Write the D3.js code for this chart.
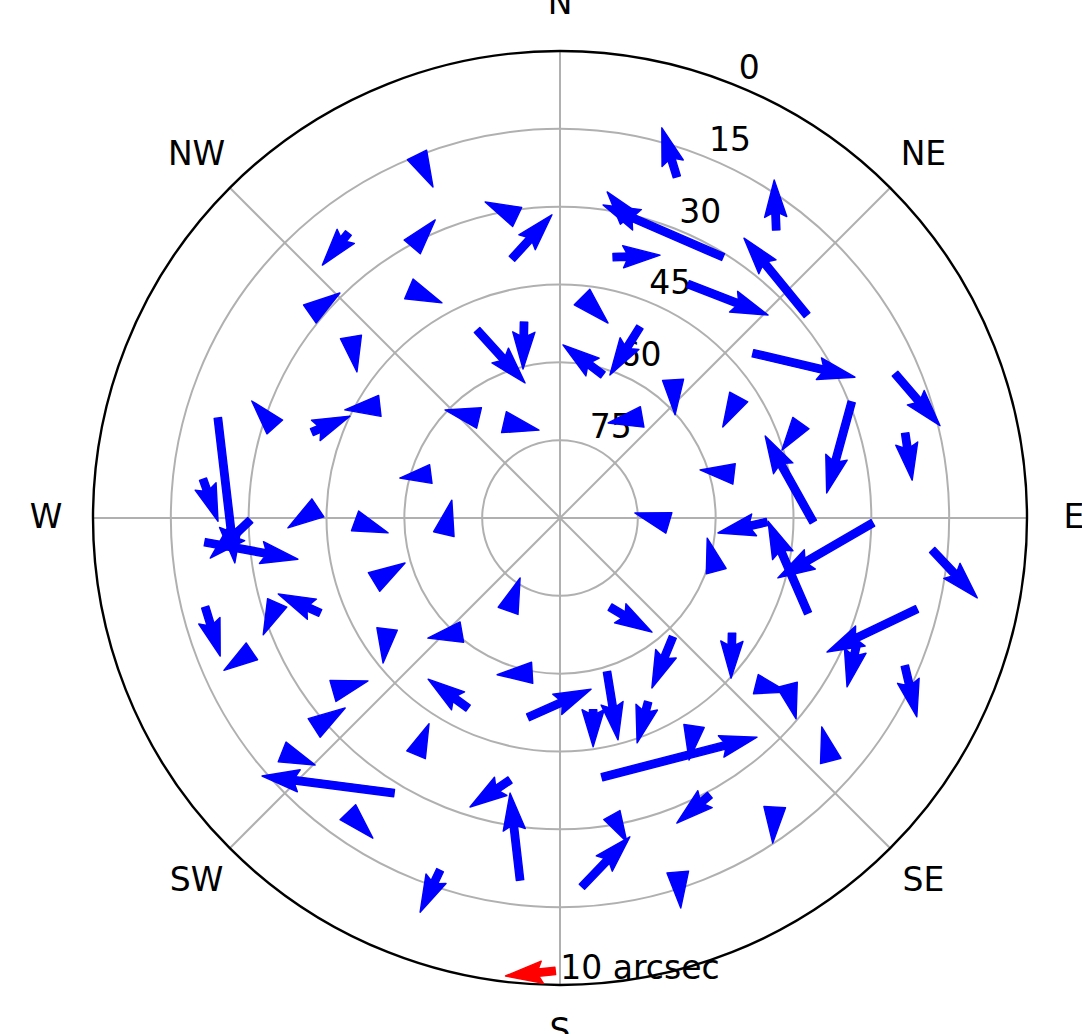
<!DOCTYPE html>
<html><head><meta charset="utf-8">
<script src="https://cdn.jsdelivr.net/npm/d3@7"></script>
<style>html,body{margin:0;padding:0;background:#fff}svg{display:block}</style>
</head><body><svg id="c" width="1082" height="1034"></svg>
<script>
// Tail positions (azimuth clockwise from N, elevation in degrees)
const azimuth = [323.4,309.2,310.9,338.5,351.9,349.5,331.4,326.6,18.9,32.0,12.8,11.5,5.7,336.2,349.6,16.7,22.7,36.9,50.6,28.7,
49.5,66.7,55.9,68.3,76.2,68.5,90.9,75.8,91.1,111.0,90.9,94.9,104.3,112.8,123.8,108.8,39.3,39.1,321.0,329.7,
288.8,262.1,92.6,209.2,150.7,220.7,136.5,190.2,287.7,289.1,301.9,286.3,276.2,269.6,266.1,272.4,269.2,251.0,248.4,253.3,
255.9,246.6,237.3,232.7,229.5,229.9,211.1,215.8,205.8,189.1,211.3,170.2,163.0,154.4,147.2,170.8,151.6,186.3,190.8,170.1,
176.6,198.8,161.6,126.3,130.3,131.9,113.2,143.4];
const elevation = [21.6,27.8,36.7,14.8,31.4,39.2,30.5,37.1,20.5,30.7,30.7,38.7,47.2,50.4,51.6,61.2,50.1,20.6,28.4,38.6,
41.1,19.7,48.4,29.5,21.5,40.1,41.2,55.4,50.1,38.8,29.7,18.0,19.0,27.9,50.1,58.2,55.6,64.9,65.2,68.6,
63.7,67.4,69.0,69.5,70.3,61.0,58.4,59.7,32.3,39.4,49.1,21.3,20.8,30.3,21.4,43.3,50.5,52.1,40.3,33.1,
19.5,25.3,50.4,35.0,27.7,20.0,28.1,20.1,49.3,51.1,36.6,52.5,59.0,50.7,42.3,39.4,29.3,19.8,38.6,31.9,
18.8,18.3,18.1,35.7,40.5,19.9,17.7,20.6];
// Offsets in arcsec (u: toward screen right, v: toward screen up)
const offU = [-5.2,6.0,1.2,3.2,-6.4,8.0,4.6,6.6,-3.0,-24.0,-4.2,9.4,5.2,9.6,-0.2,-8.0,-6.0,-0.4,-12.6,16.0,
20.4,9.0,-3.2,-5.0,1.4,-3.8,-9.6,-6.8,-9.8,-8.0,-19.0,9.0,-18.0,-2.0,-0.2,-1.8,0.4,-6.8,-6.8,7.0,
-6.2,1.6,-6.8,2.4,8.4,-6.8,-4.2,-7.0,-4.6,7.6,-7.0,3.4,3.0,-8.0,18.6,-6.0,6.6,6.2,-8.4,-2.8,
3.0,-5.6,-0.8,7.0,6.2,6.6,-26.4,5.0,-8.0,12.6,2.6,0.0,2.2,-2.2,-1.0,31.0,-6.6,-2.0,-8.0,3.0,
9.6,-4.0,0.6,1.8,6.4,-1.8,2.4,-0.4];
const offV = [-6.4,4.2,-7.0,-6.4,3.0,8.8,5.4,-2.8,9.8,10.4,5.2,0.4,-5.2,-10.6,-9.4,6.0,-9.6,10.0,15.4,-6.2,
-4.8,-10.4,-6.0,-18.2,-9.4,-5.4,17.2,0.8,-2.2,18.4,-11.0,-9.6,-8.6,-8.8,-9.0,6.6,-7.0,-1.2,1.6,-1.6,
-0.8,6.8,2.0,6.6,-5.0,-1.2,-10.2,-0.4,5.2,3.2,-0.8,-29.0,-8.4,-7.6,-3.4,-4.0,-2.4,3.8,3.8,-6.4,
-9.8,-3.8,-6.8,2.0,4.0,-2.6,3.4,-5.2,5.8,5.6,6.2,-7.4,-13.6,-8.2,-6.8,8.0,-5.6,17.4,-5.4,-5.4,
10.0,-8.4,-7.2,-6.8,-1.6,6.8,-10.2,-7.2];
const rTicks = [0, 15, 30, 45, 60, 75];
const gridEl = [75, 60, 45, 30, 15];
const dirNames = ["N","NE","E","SE","S","SW","W","NW"];
const dirAz = [0,45,90,135,180,225,270,315];
const keyValue = 10;
const keyText = "10 arcsec";
const keyAz = [180.6], keyEl = [2.7], keyU = [-9.95], keyV = [-1.0];

const cx = 560, cy = 518, R = 467;
const svg = d3.select("#c");
svg.append("rect").attr("width",1082).attr("height",1034).attr("fill","#fff");
const rScale = d3.scaleLinear().domain([90, 0]).range([0, R]);
const aScale = d3.scaleLinear().domain([0, 360]).range([0, 2*Math.PI]);
const lenScale = d3.scaleLinear().domain([0, keyValue]).range([0, 50]);
const pos = (a, e) => { const t = aScale(a), r = rScale(e); return [cx + r*Math.sin(t), cy - r*Math.cos(t)]; };

const font = "'DejaVu Sans', sans-serif";
// grid
svg.selectAll("circle.ring").data(gridEl).join("circle").attr("class","ring")
  .attr("cx",cx).attr("cy",cy).attr("r",d=>rScale(d))
  .attr("fill","none").attr("stroke","#b0b0b0").attr("stroke-width",2);
svg.selectAll("line.spoke").data(dirAz).join("line").attr("class","spoke")
  .attr("x1",cx).attr("y1",cy).attr("x2",d=>pos(d,0)[0]).attr("y2",d=>pos(d,0)[1])
  .attr("stroke","#b0b0b0").attr("stroke-width",2);
svg.append("circle").attr("cx",cx).attr("cy",cy).attr("r",rScale(0))
  .attr("fill","none").attr("stroke","#000").attr("stroke-width",2.4);

// labels
svg.selectAll("text.rt").data(rTicks).join("text").attr("class","rt")
  .attr("x",d=>pos(22.5,d)[0]).attr("y",d=>pos(22.5,d)[1]).attr("dy",-7.8)
  .attr("text-anchor","start").attr("font-family",font).attr("font-size",33).attr("fill","#000")
  .text(d=>d);
svg.selectAll("text.dir").data(dirNames).join("text").attr("class","dir")
  .attr("x",(d,i)=>cx + 514*Math.sin(aScale(dirAz[i])))
  .attr("y",(d,i)=>cy - 514*Math.cos(aScale(dirAz[i]))).attr("dy",10)
  .attr("text-anchor","middle").attr("font-family",font).attr("font-size",33).attr("fill","#000")
  .text(d=>d);

// quiver arrow shape (matplotlib style; short vectors drawn as scaled heads)
const w = 7.4, HL = 5, HAL = 4.5, HW = 3;
function arrowPath(x0, y0, dx, dy) {
  const Lpx = Math.hypot(dx, dy), L = Lpx / w;
  let X, Y;
  if (L >= HL) {
    X = [0, L-HAL, L-HL, L, L-HL, L-HAL, 0];
    Y = [0.5, 0.5, HW/2, 0, -HW/2, -0.5, -0.5];
  } else {
    const s = L / HL;
    X = [0, HL, 0].map(v=>v*s);
    Y = [HW/2, 0, -HW/2].map(v=>v*s);
  }
  const c = dx / Lpx, sn = dy / Lpx;
  const pts = X.map((xx, i) => [x0 + w*(xx*c - Y[i]*sn), y0 + w*(xx*sn + Y[i]*c)]);
  return "M" + pts.map(p => p[0].toFixed(2)+","+p[1].toFixed(2)).join("L") + "Z";
}

svg.append("g").selectAll("path").data(azimuth.map((a,i)=>i)).join("path")
  .attr("d", i => { const p = pos(azimuth[i], elevation[i]);
    return arrowPath(p[0], p[1], lenScale(offU[i]), -lenScale(offV[i])); })
  .attr("fill", "#0000ff").attr("stroke", "#0000ff").attr("stroke-width", 1.4)
  .attr("stroke-linejoin", "round");

// key
const kp = pos(keyAz[0], keyEl[0]);
svg.append("path").attr("d", arrowPath(kp[0], kp[1], lenScale(keyU[0]), -lenScale(keyV[0])))
  .attr("fill", "#ff0000").attr("stroke", "#ff0000").attr("stroke-width", 1.4).attr("stroke-linejoin","round");
svg.append("text").attr("x", kp[0] + 5).attr("y", kp[1] + 8)
  .attr("font-family",font).attr("font-size",33).attr("fill","#000").text(keyText);
</script></body></html>
